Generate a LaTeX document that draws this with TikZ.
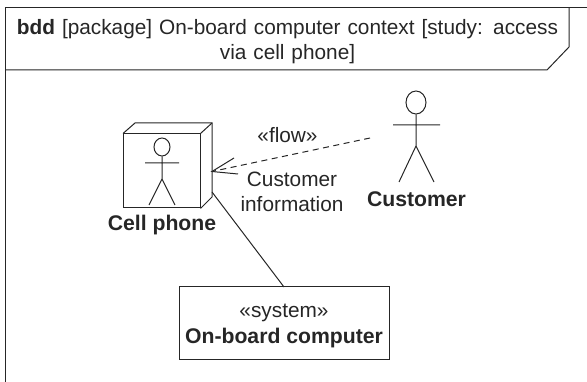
\documentclass[tikz,border=0pt]{standalone}
\usepackage{fontspec}
\usetikzlibrary{shapes.geometric}
\setmainfont{Liberation Sans}
\tikzset{
  ln/.style={draw=black!85,line width=1pt},
  lbl/.style={inner sep=0pt,font=\fontsize{20.8}{25}\selectfont,text=black!85,align=center},
  blbl/.style={lbl,font=\fontsize{21.2}{25}\selectfont\bfseries},
}
\begin{document}
\begin{tikzpicture}[x=1pt,y=-1pt]
\useasboundingbox (0,0) rectangle (587,382);
% frame
\draw[ln] (5,382) -- (5,8) -- (587,8);
\draw[ln] (569,8) -- (569,47) -- (547,70) -- (5,70);
\node[lbl,text width=560pt] (title) at (287.5,41.5) {\textbf{bdd} [package] On-board computer context [study: access\\[0.5pt]via cell phone]};
% cell phone
\node[ln,rectangle,minimum width=76.5pt,minimum height=74pt,inner sep=0pt] (phone) at (161.75,171) {};
\draw[ln] (phone.north west) -- (135,123) -- (212,123) -- (212,197) -- (phone.south east);
\draw[ln] (phone.north east) -- (212,123);
\node[ln,ellipse,minimum width=16pt,minimum height=18pt,inner sep=0pt] (h1) at (162,147) {};
\coordinate (n1) at (162,179);
\coordinate (a1l) at (145,163);
\coordinate (a1r) at (179,163);
\coordinate (l1l) at (149,205);
\coordinate (l1r) at (175,205);
\draw[ln] (h1.south) -- (n1) (a1l) -- (a1r) (l1l) -- (n1) -- (l1r);
\node[blbl] (phonelbl) at (162,225) {Cell phone};
% customer
\node[ln,ellipse,minimum width=20pt,minimum height=23pt,inner sep=0pt] (h2) at (416,102.5) {};
\coordinate (n2) at (416,146);
\coordinate (a2l) at (393,125);
\coordinate (a2r) at (440,125);
\coordinate (l2l) at (399,182);
\coordinate (l2r) at (434,182);
\draw[ln] (h2.south) -- (n2) (a2l) -- (a2r) (l2l) -- (n2) -- (l2r);
\node[blbl] (custlbl) at (416.5,199) {Customer};
% flow
\coordinate (tip) at (212,171.5);
\coordinate (fend) at (370,138);
\coordinate (b1) at (234,158);
\coordinate (b2) at (238,174);
\draw[ln,dash pattern=on 6pt off 4.5pt] (fend) -- (tip);
\draw[ln] (b1) -- (tip) -- (b2);
\node[lbl] (flowlbl) at (287.5,135.5) {«flow»};
\node[lbl,text width=130pt] (infolbl) at (292,192) {Customer\\[0pt]information};
% system
\node[ln,rectangle,minimum width=210pt,minimum height=73pt,inner sep=0pt] (sys) at (284,323.5) {};
\node[lbl] (s1) at (284,312.5) {«system»};
\node[blbl] (s2) at (284,338) {On-board computer};
\coordinate (asc) at (212,192);
\coordinate (sysT) at (284,287);
\draw[ln] (asc) -- (sysT);
\end{tikzpicture}
\end{document}
